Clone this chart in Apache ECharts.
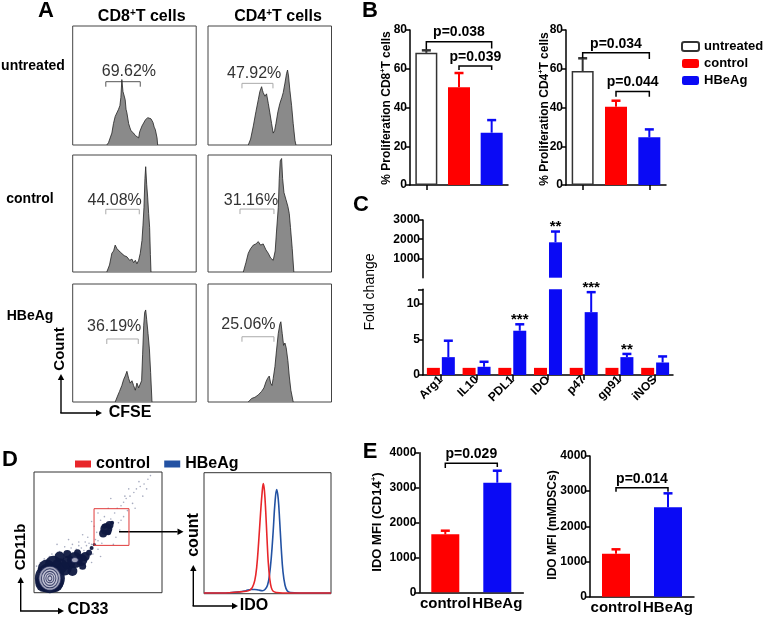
<!DOCTYPE html>
<html>
<head>
<meta charset="utf-8">
<script src="https://cdn.jsdelivr.net/npm/echarts@6/dist/echarts.min.js"></script>
<style>
html,body{margin:0;padding:0;background:#fff;}
#chart{width:763px;height:617px;}
</style>
</head>
<body>
<div id="chart"></div>
<script>
// ===================== DATA =====================
// ---- Panel A: CFSE histograms ([CFSE position %, count % of box]) ----
const aRowNames = ['untreated', 'control', 'HBeAg'];
const histCD8Untreated = [[27.6,0],[29.0,2],[31.7,10],[33.0,18],[34.4,24],[35.8,25],[37.1,30],[38.2,33],[39.0,40],[39.8,55],[40.7,45],[41.5,42],[42.5,38],[43.2,30],[43.9,27],[45.3,18],[46.2,15],[47.2,12],[48.3,13],[49.3,10],[50.7,8],[52.0,9],[53.4,6],[54.2,11],[55.0,10],[56.1,16],[57.5,15],[58.8,21],[59.8,20],[60.7,23],[62.1,24],[63.4,22],[64.2,23],[65.0,19],[66.0,15],[66.9,13],[68.3,6],[68.8,0]];
const histCD4Untreated = [[32.6,0],[34.5,5],[36.7,16],[38.8,28],[40.7,38],[42.0,45],[43.4,49],[44.1,46],[44.7,44],[46.1,41],[47.4,43],[48.8,35],[50.1,27],[51.5,18],[52.8,10],[53.9,12],[55.0,18],[56.6,28],[58.2,35],[59.8,40],[60.9,44],[62.3,52],[63.6,60],[64.4,63],[65.2,58],[66.3,46],[67.7,33],[69.0,18],[70.4,4],[71.2,0]];
const histCD8Control = [[27.6,0],[29.8,6],[31.7,16],[33.1,18],[34.4,23],[35.8,20],[37.1,21],[38.5,17],[39.8,18],[41.7,14],[43.9,13],[46.1,10],[48.0,11],[49.3,8],[50.7,10],[52.0,7],[53.4,10],[54.7,16],[56.1,27],[56.9,40],[57.7,55],[58.5,80],[59.1,90],[59.9,75],[60.7,64],[61.5,50],[62.3,38],[62.9,15],[63.4,0]];
const histCD4Control = [[28.6,0],[30.7,8],[32.6,16],[34.5,20],[36.7,23],[38.8,24],[40.7,26],[42.6,23],[44.7,24],[46.9,19],[48.8,16],[50.7,12],[52.8,10],[54.4,18],[55.5,35],[56.9,55],[57.7,80],[58.5,95],[59.6,97],[60.4,80],[61.5,68],[63.1,62],[64.7,56],[65.8,50],[66.8,38],[68.2,20],[69.5,0]];
const histCD8HBeAg = [[34.4,0],[36.3,5],[37.9,9],[39.8,14],[41.2,19],[42.5,22],[43.9,26],[45.3,20],[46.6,16],[48.0,18],[49.3,14],[50.7,10],[52.0,16],[53.4,12],[54.7,11],[55.8,18],[56.6,40],[57.5,65],[58.3,76],[59.1,78],[59.9,70],[61.0,58],[62.1,45],[63.1,25],[64.2,0]];
const histCD4HBeAg = [[32.6,0],[35.3,3],[38.0,4],[40.7,6],[43.4,9],[45.3,12],[46.9,17],[48.2,20],[49.6,22],[50.7,16],[51.8,14],[52.8,20],[54.2,30],[55.5,44],[56.9,58],[58.2,66],[59.0,68],[60.1,58],[61.2,48],[62.3,50],[63.3,46],[64.7,35],[65.8,22],[67.1,10],[69.0,0]];
const aHists = [[histCD8Untreated, histCD4Untreated],[histCD8Control, histCD4Control],[histCD8HBeAg, histCD4HBeAg]];
const aPercents = [['69.62%','47.92%'],['44.08%','31.16%'],['36.19%','25.06%']];
// gate: [from, to, level, label x, label y]
const aGates = [
  [[26.8,54.7,53.2,45.5,61.6],[27.5,52.6,51.8,37.4,59.7]],
  [[26.8,53.9,53.6,34.0,60.7],[25.9,53.4,53.8,34.8,60.7]],
  [[27.6,53.1,53.4,33.6,63.8],[27.5,53.4,55.3,32.7,65.3]]
];

// ---- Panel B ----
const bGroups = ['untreated', 'control', 'HBeAg'];
const bCD8 = [68.2, 50.4, 27.0];
const bCD8Err = [69.5, 57.8, 33.5];
const bCD4 = [58.8, 40.4, 24.6];
const bCD4Err = [65.4, 43.5, 28.7];
const bCD8Brackets = [[0, 2, 74.0, 70.0, 70.5], [1, 2, 61.4, 59.4, 59.4]];
const bCD8PTexts = ['p=0.038', 'p=0.039'];
const bCD4Brackets = [[0, 2, 68.3, 65.4, 65.0], [1, 2, 48.2, 45.6, 45.6]];
const bCD4PTexts = ['p=0.034', 'p=0.044'];

// ---- Panel C ----
const cGenes = ['Arg1', 'IL10', 'PDL1', 'IDO', 'p47', 'gp91', 'iNOS'];
const cControl = [1, 1, 1, 1, 1, 1, 1];
const cHBeAg = [2.5, 1.15, 6.2, 1840, 8.8, 2.5, 1.75];
const cHBeAgErr = [4.8, 1.85, 7.1, 2400, 11.6, 2.95, 2.6];
const cStars = ['', '', '***', '**', '***', '**', ''];
const cLowerMax = 12;
const cUpperMax = 3000;

// ---- Panel D ----
const dHistControl = [[0,0.6],[15,0.6],[22,1],[28,1.5],[33,2],[36,3],[38,5],[40,11],[41.5,22],[43,42],[44.5,66],[45.8,84],[46.7,91],[47.6,85],[48.6,68],[49.6,46],[50.6,26],[51.8,12],[53,5],[54.5,2],[57,1],[62,0.6],[100,0.6]];
const dHistHBeAg = [[0,0.6],[15,0.6],[22,1],[28,1.5],[33,2.5],[37,3.5],[40,3.5],[43,3],[46,2.5],[48,3.5],[50,7],[51.5,15],[53,30],[54.5,52],[55.8,74],[57.2,86],[58.4,79],[59.6,60],[60.8,38],[62.2,18],[63.8,7],[65.5,2.5],[68,1],[75,0.6],[100,0.6]];
const dGate = [[46.9, 39.2], [74.2, 69.6]];
// dot plot: dense regions [CD33 %, CD11b %, spread]
const dDense = [[12.4,12,30],[8,8,18],[16,8,18],[10,20,18],[15,24,16],[20,22,16],[24,20,14],[27,25,14],[32,27,16],[37,27,12],[40,30,9],[43,33,6],[20,30,10],[26,32,8],[34,33,7],[30,18,10],[38,22,7],[45,37,4],[47,40,3],
  [54,49,8],[56.5,52.7,12],[59,56,8],[55,55,5],[58,50,6],[61,58,4]];
const dHaze = [[40,42],[45,40],[42,46],[48,44],[47,55],[52,60],[55,63],[60,61],[63,66],[65,70],[68,72],[70,75],[72,78],[75,80],[78,83],[80,86],[83,88],[86,90],[89,94],[66,58],[64,46],[70,63],[58,70],[50,66],[45,59],[38,48],[35,42],[30,40],[27,44],[42,28],[46,32],[50,36],[53,41],[24,38],[20,34],[14,32],[62,40],[67,52],[73,68],[77,74],[91,97],[85,80],[79,70],[8,28],[36,20],[40,22],[2,22],[18,40],[52,30],[68,60],[74,86],[60,78],[44,36],[37,37],[33,36],[12,30],[6,24],[45,25],[49,50],[54,56],[71,80],[82,92],[88,86],[41,39],[43,41],[39,35],[48,40],[50,43],[35,39],[29,37]];
const dCore = [[12.4,11.9,22,24],[12.4,11.9,17,19],[12.4,11.9,12,14],[12.4,11.9,8,9],[12.4,11.9,4,5],[31.9,27,7,5]];

// ---- Panel E ----
const eGroups = ['control', 'HBeAg'];
const eCD14 = [1660, 3140];
const eCD14Err = [1765, 3484];
const eCD14Bracket = [[0, 1, 3696, 3560, 3590]];
const eCD14PText = ['p=0.029'];
const eMDSC = [1222, 2541];
const eMDSCErr = [1347, 2939];
const eMDSCBracket = [[0, 1, 3099, 2985, 2985]];
const eMDSCPText = ['p=0.014'];

// ===================== STYLE / HELPERS =====================
const FONT = '"Liberation Sans", Arial, Helvetica, sans-serif';
const RED = '#ff0000', BLUE = '#0a0af5';
const D_RED = '#e8262a', D_BLUE = '#2352a3';

const grids = [], xAxes = [], yAxes = [], series = [];
function addGrid(g) { grids.push(Object.assign({ outerBoundsMode: 'none', containLabel: false }, g)); return grids.length - 1; }

const axisLineStyle = { color: '#000', width: 1.5 };
const yLabel = { color: '#000', fontFamily: FONT, fontWeight: 'bold', fontSize: 12, margin: 3, formatter: v => String(v) };
function valueY(gi, min, max, interval, extra) {
  yAxes.push(Object.assign({
    gridIndex: gi, type: 'value', min, max, interval,
    axisLine: { show: true, lineStyle: axisLineStyle },
    axisTick: { show: true, length: 5, lineStyle: axisLineStyle },
    splitLine: { show: false },
    axisLabel: yLabel
  }, extra || {}));
}
function catX(gi, data, extra) {
  xAxes.push(Object.assign({
    gridIndex: gi, type: 'category', data,
    axisLine: { show: true, lineStyle: axisLineStyle },
    axisTick: { show: true, alignWithLabel: true, length: 5, lineStyle: axisLineStyle },
    axisLabel: { show: false },
    splitLine: { show: false }
  }, extra || {}));
}
function hiddenValueAxes(gi) {
  xAxes.push({ gridIndex: gi, type: 'value', min: 0, max: 100, show: false });
  yAxes.push({ gridIndex: gi, type: 'value', min: 0, max: 100, show: false });
}

// error bar renderer: value [catIdx, errTop, barTop, colorIdx]
function errRenderer(colors, offsetPx, stars) {
  return function (params, api) {
    const i = api.value(0), top = api.value(1), base = api.value(2), ci = api.value(3);
    const p0 = api.coord([i, base]), p1 = api.coord([i, top]);
    const x = p0[0] + offsetPx;
    const col = colors[ci];
    const ch = [
      { type: 'line', shape: { x1: x, y1: p0[1], x2: x, y2: p1[1] }, style: { stroke: col, lineWidth: 2 } },
      { type: 'line', shape: { x1: x - 4.5, y1: p1[1], x2: x + 4.5, y2: p1[1] }, style: { stroke: col, lineWidth: 2.5 } }
    ];
    if (stars && stars[i]) {
      ch.push({ type: 'text', x: x, y: p1[1] + 3, style: { text: stars[i], font: 'bold 15px ' + FONT, fill: '#000', align: 'center', verticalAlign: 'bottom' } });
    }
    return { type: 'group', children: ch };
  };
}
// bracket renderer: value [from, to, level, leftLegEnd, rightLegEnd]
function bracketRenderer(texts) {
  return function (params, api) {
    const a = api.value(0), b = api.value(1), y = api.value(2), yl = api.value(3), yr = api.value(4);
    const pA = api.coord([a, yl]), pB = api.coord([a, y]), pC = api.coord([b, y]), pD = api.coord([b, yr]);
    return { type: 'group', children: [
      { type: 'polyline', shape: { points: [pA, pB, pC, pD] }, style: { stroke: '#000', lineWidth: 1.5, fill: null } },
      { type: 'text', x: (pB[0] + pC[0]) / 2, y: pB[1] - 2, style: { text: texts[params.dataIndex], font: 'bold 14px ' + FONT, fill: '#000', align: 'center', verticalAlign: 'bottom' } }
    ] };
  };
}

// ===================== PANEL A =====================
const aLeft = [72.7, 208], aTop = [26, 155, 284], aH = [119, 117, 118];
for (let r = 0; r < 3; r++) {
  for (let c = 0; c < 2; c++) {
    const gi = addGrid({ left: aLeft[c], top: aTop[r], width: 123.5, height: aH[r], show: true, borderColor: '#444', borderWidth: 1 });
    hiddenValueAxes(gi);
    series.push({ type: 'line', name: 'CFSE ' + aRowNames[r] + ' ' + c, xAxisIndex: gi, yAxisIndex: gi, data: aHists[r][c], symbol: 'none', silent: true,
      lineStyle: { color: '#222', width: 0.8 }, areaStyle: { color: '#8a8a8a', opacity: 1 } });
    const gateColor = (r === 0 && c === 0) ? '#555' : '#aaa';
    const label = aPercents[r][c];
    series.push({ type: 'custom', xAxisIndex: gi, yAxisIndex: gi, data: [aGates[r][c]], silent: true,
      renderItem: function (params, api) {
        const p1 = api.coord([api.value(0), api.value(2)]), p2 = api.coord([api.value(1), api.value(2)]);
        const pt = api.coord([api.value(3), api.value(4)]);
        return { type: 'group', children: [
          { type: 'polyline', shape: { points: [[p1[0], p1[1] + 5], p1, p2, [p2[0], p2[1] + 5]] }, style: { stroke: gateColor, lineWidth: 1, fill: null } },
          { type: 'text', x: pt[0], y: pt[1], style: { text: label, font: '16px ' + FONT, fill: '#333', align: 'center', verticalAlign: 'middle' } }
        ] };
      } });
  }
}

// ===================== PANEL B =====================
const bColors = ['#333', RED, BLUE];
function bChart(left, width, vals, errs, brackets, texts) {
  const gi = addGrid({ left, top: 30, width, height: 155 });
  catX(gi, bGroups);
  valueY(gi, 0, 80, 20);
  bGroups.forEach((g, k) => {
    series.push({ type: 'bar', name: g, xAxisIndex: gi, yAxisIndex: gi, barWidth: 22, barGap: '-100%',
      data: vals.map((v, i) => i === k ? v : '-'),
      itemStyle: k === 0 ? { color: '#fff', borderColor: '#333', borderWidth: 1.5 } : { color: bColors[k] } });
  });
  series.push({ type: 'custom', xAxisIndex: gi, yAxisIndex: gi, encode: { x: 0, y: 1 }, silent: true,
    data: vals.map((v, i) => [i, errs[i], v, i]), renderItem: errRenderer(bColors, 0, null), z: 3 });
  series.push({ type: 'custom', xAxisIndex: gi, yAxisIndex: gi, encode: { x: 0, y: 2 }, silent: true,
    data: brackets, renderItem: bracketRenderer(texts), z: 4 });
}
bChart(410, 98, bCD8, bCD8Err, bCD8Brackets, bCD8PTexts);
bChart(566, 100, bCD4, bCD4Err, bCD4Brackets, bCD4PTexts);

// ===================== PANEL C =====================
const cUp = addGrid({ left: 423, top: 220, width: 250, height: 57.7 });
xAxes.push({ gridIndex: cUp, type: 'category', data: cGenes, show: false });
valueY(cUp, 0, cUpperMax, 1000, { axisLabel: Object.assign({}, yLabel, { showMinLabel: false }) });
const cLow = addGrid({ left: 423, top: 289.3, width: 250, height: 85.7 });
catX(cLow, cGenes, { axisLabel: { show: true, interval: 0, rotate: 45, color: '#000', fontFamily: FONT, fontWeight: 'bold', fontSize: 12, margin: 3, hideOverlap: false } });
valueY(cLow, 0, cLowerMax, 5, { axisLabel: Object.assign({}, yLabel, { formatter: v => (v % 5 === 0 ? String(v) : '') }) });
const cOff = 13 * 1.15 / 2;
[[cUp, v => (v > cLowerMax ? v : '-')], [cLow, v => v]].forEach(([gi, f]) => {
  series.push({ type: 'bar', name: 'control', xAxisIndex: gi, yAxisIndex: gi, barWidth: 13, barGap: '15%',
    data: cControl.map(v => (gi === cUp ? '-' : v)), itemStyle: { color: RED } });
  series.push({ type: 'bar', name: 'HBeAg', xAxisIndex: gi, yAxisIndex: gi, barWidth: 13, barGap: '15%',
    data: cHBeAg.map(f), itemStyle: { color: BLUE }, clip: true });
});
series.push({ type: 'custom', xAxisIndex: cLow, yAxisIndex: cLow, encode: { x: 0, y: 1 }, silent: true, z: 3,
  data: cHBeAg.map((v, i) => [i, cHBeAgErr[i], v, 0]).filter(d => d[1] <= cLowerMax),
  renderItem: errRenderer([BLUE], cOff, cStars) });
series.push({ type: 'custom', xAxisIndex: cUp, yAxisIndex: cUp, encode: { x: 0, y: 1 }, silent: true, z: 3,
  data: cHBeAg.map((v, i) => [i, cHBeAgErr[i], v, 0]).filter(d => d[1] > cLowerMax),
  renderItem: errRenderer([BLUE], cOff, cStars) });

// ===================== PANEL D =====================
const dDot = addGrid({ left: 34, top: 472, width: 128, height: 120.7, show: true, borderColor: '#333', borderWidth: 1 });
hiddenValueAxes(dDot);
series.push({ type: 'scatter', xAxisIndex: dDot, yAxisIndex: dDot, data: dHaze, symbolSize: 1.6, silent: true,
  itemStyle: { color: '#3a4470', opacity: 0.45 } });
series.push({ type: 'scatter', xAxisIndex: dDot, yAxisIndex: dDot, data: dDense, symbolSize: v => v[2], silent: true,
  itemStyle: { color: '#0e1840', opacity: 0.95 } });
series.push({ type: 'scatter', xAxisIndex: dDot, yAxisIndex: dDot, data: dCore, symbolSize: v => [v[2], v[3]], silent: true,
  itemStyle: { color: '#c8c8da', borderColor: '#1a2350', borderWidth: 1 } });
series.push({ type: 'custom', xAxisIndex: dDot, yAxisIndex: dDot, data: [[dGate[0][0], dGate[0][1], dGate[1][0], dGate[1][1]]], silent: true, z: 5,
  renderItem: function (params, api) {
    const a = api.coord([api.value(0), api.value(3)]), b = api.coord([api.value(2), api.value(1)]);
    return { type: 'rect', shape: { x: a[0], y: a[1], width: b[0] - a[0], height: b[1] - a[1] }, style: { stroke: '#e03a3a', lineWidth: 1, fill: null } };
  } });
const dHist = addGrid({ left: 204, top: 472.7, width: 127, height: 121, show: true, borderColor: '#333', borderWidth: 1 });
hiddenValueAxes(dHist);
series.push({ type: 'line', name: 'control', xAxisIndex: dHist, yAxisIndex: dHist, data: dHistControl, symbol: 'none', smooth: 0.4, silent: true,
  lineStyle: { color: D_RED, width: 1.6 }, itemStyle: { color: D_RED }, z: 3 });
series.push({ type: 'line', name: 'HBeAg', xAxisIndex: dHist, yAxisIndex: dHist, data: dHistHBeAg, symbol: 'none', smooth: 0.4, silent: true,
  lineStyle: { color: D_BLUE, width: 1.6 }, itemStyle: { color: D_BLUE }, z: 2 });

// ===================== PANEL E =====================
function eChart(left, top, height, vals, errs, bracket, texts) {
  const gi = addGrid({ left, top, width: 104, height });
  catX(gi, eGroups, { axisTick: { show: false }, axisLabel: { show: true, interval: 0, hideOverlap: false, color: '#000', fontFamily: FONT, fontWeight: 'bold', fontSize: 15, margin: 4 } });
  valueY(gi, 0, 4000, 1000);
  series.push({ type: 'bar', name: 'E' + gi, xAxisIndex: gi, yAxisIndex: gi, barWidth: 28,
    data: vals.map((v, i) => ({ value: v, itemStyle: { color: i === 0 ? RED : BLUE } })) });
  series.push({ type: 'custom', xAxisIndex: gi, yAxisIndex: gi, encode: { x: 0, y: 1 }, silent: true, z: 3,
    data: vals.map((v, i) => [i, errs[i], v, i]), renderItem: errRenderer([RED, BLUE], 0, null) });
  series.push({ type: 'custom', xAxisIndex: gi, yAxisIndex: gi, encode: { x: 0, y: 2 }, silent: true, z: 4,
    data: bracket, renderItem: bracketRenderer(texts) });
}
eChart(419.3, 452.7, 139.6, eCD14, eCD14Err, eCD14Bracket, eCD14PText);
eChart(590, 456, 140.7, eMDSC, eMDSCErr, eMDSCBracket, eMDSCPText);

// ===================== TEXT / ARROWS =====================
function T(x, y, text, font, extra) {
  return Object.assign({ type: 'text', x, y, silent: true, style: { text, font, fill: '#000', align: 'center', verticalAlign: 'middle' } }, extra || {});
}
function R(x, y, text, font) { return T(x, y, text, font, { rotation: Math.PI / 2 }); }
function sup(x, y, parts, size, weight, rot) {
  const lh = size + 2;
  return { type: 'text', x, y, rotation: rot || 0, silent: true, style: {
    text: parts.map((p, i) => (i % 2 === 1 ? '{s|' + p + '}' : '{a|' + p + '}')).join(''),
    align: 'center', verticalAlign: 'middle', fill: '#000',
    rich: { a: { fontSize: size, fontWeight: weight, fontFamily: FONT, lineHeight: lh, fill: '#000' },
            s: { fontSize: Math.round(size * 0.62), fontWeight: weight, fontFamily: FONT, lineHeight: lh, verticalAlign: 'top', fill: '#000' } } } };
}
function arrow(x1, y1, x2, y2) {
  const ang = Math.atan2(y2 - y1, x2 - x1), L = 6, W = 3.2;
  const bx = x2 - L * Math.cos(ang), by = y2 - L * Math.sin(ang);
  return [
    { type: 'line', silent: true, shape: { x1, y1, x2: bx, y2: by }, style: { stroke: '#000', lineWidth: 1.4 } },
    { type: 'polygon', silent: true, shape: { points: [[x2, y2], [bx - W * Math.sin(ang), by + W * Math.cos(ang)], [bx + W * Math.sin(ang), by - W * Math.cos(ang)]] }, style: { fill: '#000' } }
  ];
}
const BIG = 'bold 22px ' + FONT;
const graphics = [
  T(46, 11, 'A', BIG), T(370, 11, 'B', BIG), T(361, 205, 'C', BIG), T(10, 460, 'D', BIG), T(370, 452, 'E', BIG),
  sup(141.7, 17, ['CD8', '+', 'T cells'], 16, 'bold'),
  sup(278, 17, ['CD4', '+', 'T cells'], 16, 'bold'),
  T(33, 66, aRowNames[0], 'bold 14px ' + FONT), T(30, 199, aRowNames[1], 'bold 14px ' + FONT), T(30, 316, aRowNames[2], 'bold 14px ' + FONT),
  R(60, 349, 'Count', 'bold 15px ' + FONT), T(130, 413, 'CFSE', 'bold 16px ' + FONT),
  ...arrow(61, 413, 61, 374), ...arrow(60.3, 413, 102, 413),
  sup(387, 108, ['% Proliferation CD8', '+', 'T cells'], 12, 'bold', Math.PI / 2),
  sup(545, 109, ['% Proliferation CD4', '+', 'T cells'], 12, 'bold', Math.PI / 2),
  R(370, 292, 'Fold change', '14px ' + FONT),
  R(21, 547, 'CD11b', 'bold 15px ' + FONT), T(88, 610, 'CD33', 'bold 16px ' + FONT),
  ...arrow(20.7, 611, 20.7, 577), ...arrow(20, 611, 64, 611),
  R(194, 535, 'count', 'bold 16px ' + FONT), T(254, 606, 'IDO', 'bold 16px ' + FONT),
  ...arrow(193.3, 606, 193.3, 565), ...arrow(192.6, 606, 238, 606),
  ...arrow(119, 531.7, 183.5, 531.7),
  sup(377, 522, ['IDO MFI (CD14', '+', ')'], 13, 'bold', Math.PI / 2),
  R(553, 525, 'IDO MFI (mMDSCs)', 'bold 12px ' + FONT)
];

const option = {
  animation: false,
  backgroundColor: '#fff',
  textStyle: { fontFamily: FONT },
  grid: grids, xAxis: xAxes, yAxis: yAxes, series,
  legend: [
    { data: bGroups, orient: 'vertical', left: 676, top: 35, itemWidth: 17, itemHeight: 9, itemGap: 4, icon: 'roundRect', selectedMode: false,
      textStyle: { fontFamily: FONT, fontWeight: 'bold', fontSize: 13, color: '#000' } },
    { data: [{ name: 'control', itemStyle: { color: D_RED } }, { name: 'HBeAg', itemStyle: { color: D_BLUE } }],
      orient: 'horizontal', left: 70, top: 451, itemWidth: 16, itemHeight: 7, itemGap: 14, icon: 'rect', selectedMode: false,
      textStyle: { fontFamily: FONT, fontWeight: 'bold', fontSize: 16, color: '#000' } }
  ],
  graphic: graphics
};
const chart = echarts.init(document.getElementById('chart'), null, { renderer: 'canvas' });
chart.setOption(option);
</script>
</body>
</html>
